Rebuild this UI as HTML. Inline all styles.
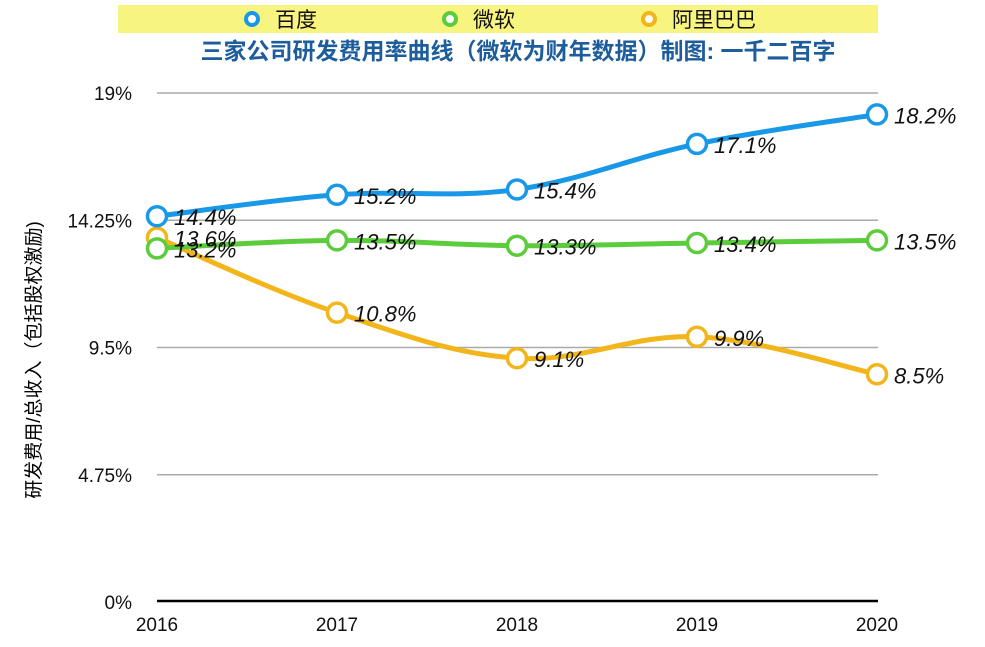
<!DOCTYPE html>
<html><head><meta charset="utf-8"><style>
body{margin:0;background:#fff;}
svg text{font-family:"Liberation Sans","Noto Sans CJK SC",sans-serif;}
</style></head><body>
<svg id="chart" width="985" height="642" viewBox="0 0 985 642">
<rect x="118" y="5" width="760" height="28" fill="#f8f480"/>
<g id="legend"></g>
<text x="518" y="59" text-anchor="middle" font-size="23" font-weight="bold" fill="#1d5d9b">三家公司研发费用率曲线（微软为财年数据）制图: 一千二百字</text>
<g id="grid"></g>
<g id="series"></g>
<text transform="translate(40,360) rotate(-90)" text-anchor="middle" font-size="19" fill="#000">研发费用/总收入（包括股权激励)</text>
</svg>
<script>
const years=["2016","2017","2018","2019","2020"];
const yTicks=[0,4.75,9.5,14.25,19];
const yTickLabels=["0%","4.75%","9.5%","14.25%","19%"];
const seriesNames=["百度","微软","阿里巴巴"];
const seriesColors=["#1a98e8","#5ccc3c","#f2b51a"];
const baidu=[14.4,15.2,15.4,17.1,18.2];
const microsoft=[13.2,13.5,13.3,13.4,13.5];
const alibaba=[13.6,10.8,9.1,9.9,8.5];
const ns="http://www.w3.org/2000/svg";
const X0=157,X1=877,Y0=602,Y19=93;
function xs(i){return X0+(X1-X0)*i/(years.length-1);}
function ys(v){return Y0-(Y0-Y19)*v/19;}
function mk(tag,attrs,parent){const e=document.createElementNS(ns,tag);for(const k in attrs)e.setAttribute(k,attrs[k]);parent.appendChild(e);return e;}
const grid=document.getElementById('grid');
yTicks.forEach((t,i)=>{
  if(t>0){const l=mk('line',{x1:157,x2:878,y1:ys(t),y2:ys(t),stroke:'#aaa','stroke-width':1.5},grid);
  
  }
  const tx=mk('text',{x:132,y:ys(t)+7,'text-anchor':'end','font-size':19,fill:'#111'},grid);
  tx.textContent=yTickLabels[i];
  
  
});
const ax=mk('line',{x1:157,x2:878,y1:601,y2:601,stroke:'#000','stroke-width':2.5},grid);


years.forEach((y,i)=>{
  const tx=mk('text',{x:xs(i),y:631,'text-anchor':'middle','font-size':19,fill:'#111'},grid);
  tx.textContent=y;
  
  
});
function pathD(pts){
  let d=`M${pts[0][0]},${pts[0][1]}`;
  for(let i=0;i<pts.length-1;i++){
    const p0=pts[i-1]||pts[i],p1=pts[i],p2=pts[i+1],p3=pts[i+2]||p2;
    const t=0.18;
    const c1=[p1[0]+(p2[0]-p0[0])*t,p1[1]+(p2[1]-p0[1])*t];
    const c2=[p2[0]-(p3[0]-p1[0])*t,p2[1]-(p3[1]-p1[1])*t];
    d+=` C${c1[0]},${c1[1]} ${c2[0]},${c2[1]} ${p2[0]},${p2[1]}`;
  }
  return d;
}
const sg=document.getElementById('series');
const allData=[baidu,microsoft,alibaba];
const order=[2,1,0];
order.forEach(si=>{
  const data=allData[si];const c=seriesColors[si];
  const g=mk('g',{},sg);
  
  
  const pts=data.map((v,i)=>[xs(i),ys(v)]);
  const p=mk('path',{d:pathD(pts),fill:'none',stroke:c,'stroke-width':5},g);
  
  
  pts.forEach((pt,i)=>{
    const ci=mk('circle',{cx:pt[0],cy:pt[1],r:9.5,fill:'#fff',stroke:c,'stroke-width':3.5},g);
    
    
  });
});
order.forEach(si=>{
  const data=allData[si];
  data.forEach((v,i)=>{
    const tx=mk('text',{x:xs(i)+17,y:ys(v)+9,'font-size':22,'font-style':'italic',fill:'#111'},sg);
    tx.textContent=v.toFixed(1)+'%';
    
    
  });
});
const lg=document.getElementById('legend');
const lx=[252,450,649];
seriesNames.forEach((n,i)=>{
  const g=mk('g',{},lg);
  
  
  mk('circle',{cx:lx[i],cy:19,r:6,fill:'#fff',stroke:seriesColors[i],'stroke-width':4},g);
  const t=mk('text',{x:lx[i]+23,y:27,'font-size':21,fill:'#111'},g);
  t.textContent=n;
});
</script>
</body></html>
